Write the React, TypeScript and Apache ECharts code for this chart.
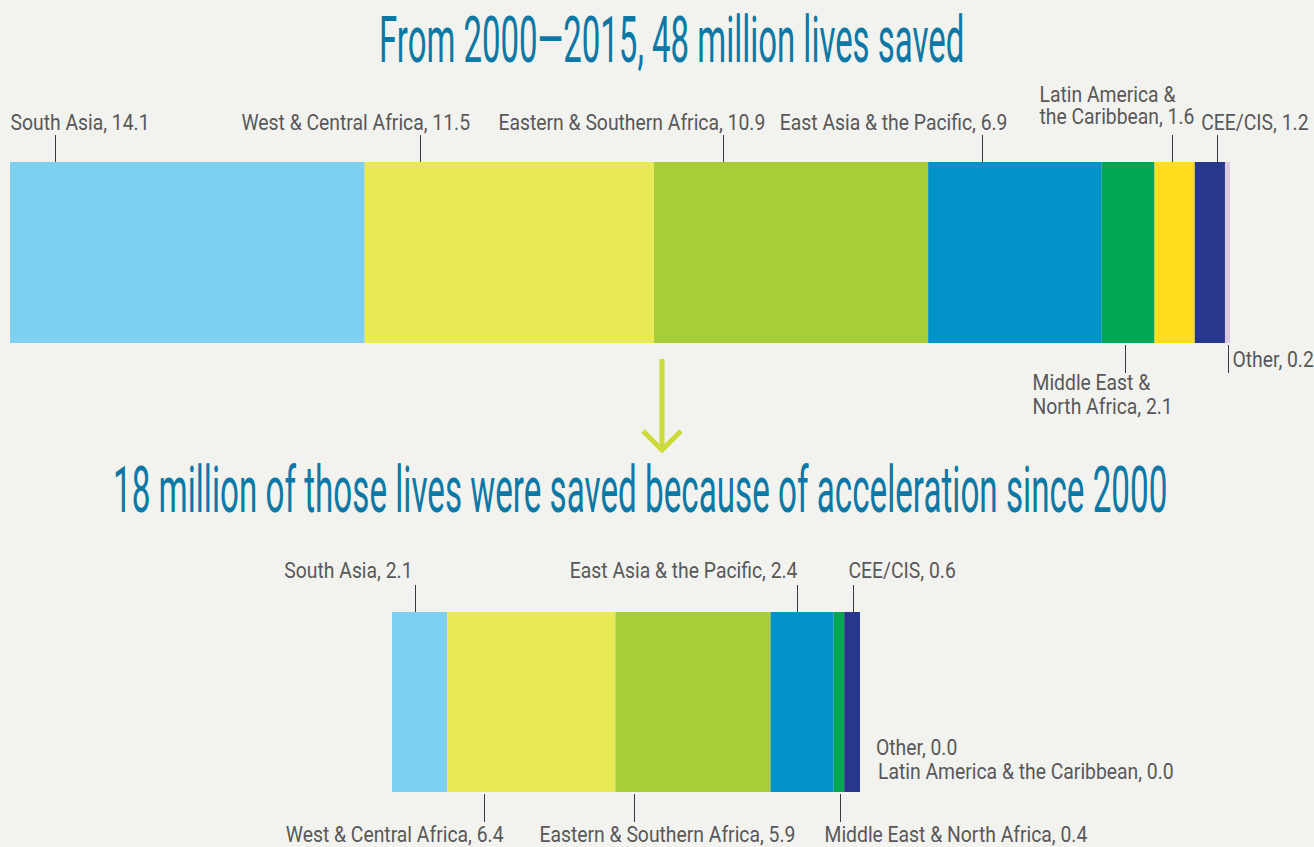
import React, { useEffect, useRef } from "react";
import * as echarts from "echarts";

// ---------- data ----------
const regions = [
  "South Asia",
  "West & Central Africa",
  "Eastern & Southern Africa",
  "East Asia & the Pacific",
  "Middle East & North Africa",
  "Latin America & the Caribbean",
  "CEE/CIS",
  "Other",
];
// millions of lives saved, 2000-2015
const livesSaved2000to2015 = [14.1, 11.5, 10.9, 6.9, 2.1, 1.6, 1.2, 0.2];
// millions saved because of acceleration since 2000
const livesSavedAcceleration = [2.1, 6.4, 5.9, 2.4, 0.4, 0.0, 0.6, 0.0];
const titles = [
  "From 2000\u20142015, 48 million lives saved",
  "18 million of those lives were saved because of acceleration since 2000",
];

// ---------- styles / layout ----------
const regionColors = ["#7dd0ef", "#e8e955", "#a7ce39", "#0092c8", "#00a651", "#fedd1a", "#28378e", "#dcc8e0"];
const BG = "#f2f2ee";
const TITLE_COLOR = "#0c78a5";
const LABEL_COLOR = "#58585a";
const LEADER_COLOR = "#3a3a3a";
const TITLE_FONT = "'Liberation Sans Narrow', Roboto, sans-serif";
const LABEL_FONT = "'Liberation Sans Narrow', Roboto, sans-serif";
const LABEL_SIZE = 22;
const TITLE_SIZE = 64;

const titleLayout = [
  { left: 379, width: 586, cy: 40 },
  { left: 113, width: 1055, cy: 490 },
];
const gridLayout = [
  { left: 10, top: 162, width: 1220, height: 181 },
  { left: 392, top: 612, width: 468, height: 180 },
];
type LabelPos = { at?: number; side: string; align: string; dx: number; dy?: number; wrap?: boolean };
const topLabelLayout: LabelPos[] = [
  { at: 0.127, side: "above", align: "left", dx: -45 },
  { at: 0.19, side: "above", align: "left", dx: -179 },
  { at: 0.25, side: "above", align: "left", dx: -225 },
  { at: 0.31, side: "above", align: "right", dx: 25 },
  { at: 0.44, side: "below", align: "left", dx: -93, wrap: true },
  { at: 0.44, side: "above", align: "left", dx: -133, dy: -6, wrap: true },
  { at: 0.74, side: "above", align: "right", dx: 91 },
  { at: 0.6, side: "beside", align: "left", dx: 4 },
];
const bottomLabelLayout: LabelPos[] = [
  { at: 0.42, side: "above", align: "right", dx: -3, dy: -2 },
  { at: 0.22, side: "below", align: "right", dx: 19, dy: 3 },
  { at: 0.12, side: "below", align: "left", dx: -95, dy: 3 },
  { at: 0.42, side: "above", align: "right", dx: 0, dy: -2 },
  { at: 0.6, side: "below", align: "left", dx: -16, dy: 3 },
  { side: "end", align: "left", dx: 18, dy: -20 },
  { at: 0.53, side: "above", align: "left", dx: -5, dy: -2 },
  { side: "end", align: "left", dx: 16, dy: -44 },
];

function measure(text: string, size: number, family: string) {
  const c = document.createElement("canvas");
  const ctx = c.getContext("2d")!;
  ctx.font = `${size}px ${family}`;
  return ctx.measureText(text).width;
}

function textEl(text: string, x: number, y: number, scaleX: number, align: string, size: number, family: string, fill: string) {
  return {
    type: "text",
    x,
    y,
    scaleX,
    silent: true,
    style: {
      text,
      fill,
      fontSize: size,
      fontFamily: family,
      align,
      textAlign: align,
      verticalAlign: "middle",
      textVerticalAlign: "middle",
    },
  };
}

export default function App() {
  const ref = useRef<HTMLDivElement>(null);
  useEffect(() => {
    document.body.style.margin = "0";
    document.body.style.overflow = "hidden";
    const chart = echarts.init(ref.current!, null, { renderer: "svg" });
    const bars = [
      { values: livesSaved2000to2015, layout: topLabelLayout },
      { values: livesSavedAcceleration, layout: bottomLabelLayout },
    ];
    const totals = bars.map((b) => Math.round(b.values.reduce((a, v) => a + v, 0) * 10) / 10);

    chart.setOption({
      animation: false,
      backgroundColor: BG,
      grid: gridLayout.map((g) => ({ ...g, containLabel: false })),
      xAxis: bars.map((b, i) => ({ type: "value", gridIndex: i, min: 0, max: totals[i], show: false })),
      yAxis: bars.map((b, i) => ({ type: "category", gridIndex: i, data: ["total"], show: false })),
      series: bars.flatMap((b, i) =>
        regions.map((r, k) => ({
          type: "bar",
          name: r,
          xAxisIndex: i,
          yAxisIndex: i,
          stack: "s" + i,
          barWidth: "100%",
          silent: true,
          data: [b.values[k]],
          itemStyle: { color: regionColors[k] },
        }))
      ),
    });

    const labelScale = 267 / measure("Eastern & Southern Africa, 10.9", LABEL_SIZE, LABEL_FONT);
    const graphics: any[] = [];

    titles.forEach((t, i) => {
      const L = titleLayout[i];
      const s = L.width / measure(t, TITLE_SIZE, TITLE_FONT);
      graphics.push(textEl(t, L.left, L.cy, s, "left", TITLE_SIZE, TITLE_FONT, TITLE_COLOR));
    });

    bars.forEach((b, i) => {
      const g = gridLayout[i];
      const barTop = g.top;
      const barBottom = g.top + g.height;
      let cum = 0;
      b.values.forEach((v, k) => {
        const L = b.layout[k];
        const start = cum;
        cum += v;
        if (!L) return;
        const label = `${regions[k]}, ${v.toFixed(1)}`;
        const lines = L.wrap ? label.replace(" & ", " &\n").split("\n") : [label];
        const dy = L.dy || 0;
        if (L.side === "end") {
          const px = chart.convertToPixel({ xAxisIndex: i }, totals[i]) as number;
          graphics.push(textEl(lines[0], px + L.dx, barBottom + dy, labelScale, L.align, LABEL_SIZE, LABEL_FONT, LABEL_COLOR));
          return;
        }
        const px = Math.round(chart.convertToPixel({ xAxisIndex: i }, start + v * (L.at || 0.5)) as number) + 0.5;
        if (L.side === "above") {
          graphics.push({ type: "line", silent: true, shape: { x1: px, y1: barTop - 27, x2: px, y2: barTop }, style: { stroke: LEADER_COLOR, lineWidth: 1 } });
          const lastY = barTop - 39 + dy;
          lines.forEach((ln, j) => {
            const y = lastY - (lines.length - 1 - j) * 22;
            graphics.push(textEl(ln, px + L.dx, y, labelScale, L.align, LABEL_SIZE, LABEL_FONT, LABEL_COLOR));
          });
        } else if (L.side === "below") {
          graphics.push({ type: "line", silent: true, shape: { x1: px, y1: barBottom + 2, x2: px, y2: barBottom + 30 }, style: { stroke: LEADER_COLOR, lineWidth: 1 } });
          lines.forEach((ln, j) => {
            const y = barBottom + 40 + dy + j * 24;
            graphics.push(textEl(ln, px + L.dx, y, labelScale, L.align, LABEL_SIZE, LABEL_FONT, LABEL_COLOR));
          });
        } else {
          graphics.push({ type: "line", silent: true, shape: { x1: px, y1: barBottom + 2, x2: px, y2: barBottom + 30 }, style: { stroke: LEADER_COLOR, lineWidth: 1 } });
          graphics.push(textEl(lines[0], px + L.dx, barBottom + 17 + dy, labelScale, L.align, LABEL_SIZE, LABEL_FONT, LABEL_COLOR));
        }
      });
    });

    // arrow between the two bars
    graphics.push({ type: "line", silent: true, shape: { x1: 662, y1: 359, x2: 662, y2: 447 }, style: { stroke: "#cbdb3b", lineWidth: 5 } });
    graphics.push({
      type: "polyline",
      silent: true,
      shape: { points: [[643, 431], [662, 450], [681, 431]] },
      style: { stroke: "#cbdb3b", lineWidth: 5, fill: "none", lineJoin: "miter" },
    });

    chart.setOption({ graphic: { elements: graphics } });
    return () => chart.dispose();
  }, []);
  return <div ref={ref} style={{ width: 1314, height: 847, background: BG }} />;
}
